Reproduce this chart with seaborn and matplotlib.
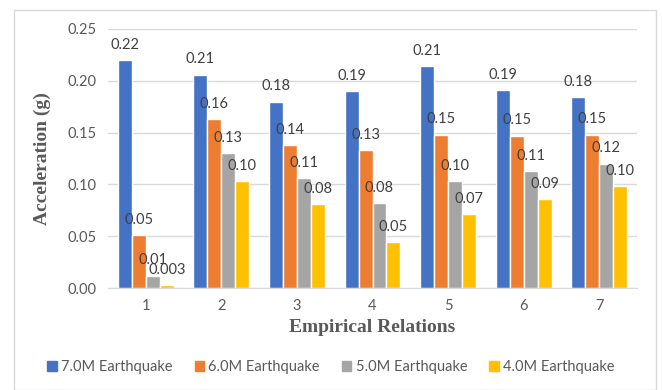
import matplotlib
matplotlib.use("Agg")
import matplotlib.pyplot as plt
import seaborn as sns
import pandas as pd
from matplotlib.patches import Rectangle

categories = ["1", "2", "3", "4", "5", "6", "7"]
series = ["7.0M Earthquake", "6.0M Earthquake", "5.0M Earthquake", "4.0M Earthquake"]
m70 = [0.220, 0.206, 0.180, 0.190, 0.214, 0.191, 0.184]
m60 = [0.051, 0.163, 0.138, 0.133, 0.148, 0.147, 0.148]
m50 = [0.012, 0.130, 0.106, 0.082, 0.103, 0.113, 0.120]
m40 = [0.003, 0.103, 0.081, 0.044, 0.071, 0.086, 0.098]
lab70 = ["0.22", "0.21", "0.18", "0.19", "0.21", "0.19", "0.18"]
lab60 = ["0.05", "0.16", "0.14", "0.13", "0.15", "0.15", "0.15"]
lab50 = ["0.01", "0.13", "0.11", "0.08", "0.10", "0.11", "0.12"]
lab40 = ["0.003", "0.10", "0.08", "0.05", "0.07", "0.09", "0.10"]
yticks = [0.00, 0.05, 0.10, 0.15, 0.20, 0.25]
colors = ["#4472C4", "#ED7D31", "#A5A5A5", "#FFC000"]

rows = []
for s, vals in zip(series, [m70, m60, m50, m40]):
    for c, v in zip(categories, vals):
        rows.append({"cat": c, "series": s, "value": v})
df = pd.DataFrame(rows)

sns.set_style("white")
plt.rcParams["font.family"] = ["Lato", "DejaVu Sans"]

fig = plt.figure(figsize=(6.62, 3.90), dpi=100)
ax = fig.add_axes([108/662, 1-288/390, (637-108)/662, (288-29)/390])
fig.patches.append(Rectangle((14/662, 0.0), (656-14)/662, 1-10/390, transform=fig.transFigure,
                             fill=False, edgecolor="#d9d9d9", linewidth=1.0))

sns.barplot(data=df, x="cat", y="value", hue="series", order=categories, hue_order=series,
            palette=colors, width=0.74, ax=ax, legend=False, saturation=1, errorbar=None)

for cont, labs in zip(ax.containers, [lab70, lab60, lab50, lab40]):
    ax.bar_label(cont, labels=labs, padding=6, fontsize=10.5, color="#404040")

ax.set_ylim(0, 0.25)
ax.set_xlim(-0.5, 6.5)
ax.set_yticks(yticks)
ax.set_yticklabels([f"{t:.2f}" for t in yticks])
ax.yaxis.grid(True, color="#d9d9d9", linewidth=1)
ax.set_axisbelow(True)
for sp in ["top", "right", "left"]:
    ax.spines[sp].set_visible(False)
ax.spines["bottom"].set_color("#d9d9d9")
ax.tick_params(axis="both", length=0, labelsize=10.5, colors="#595959", pad=8)
ax.set_xlabel("Empirical Relations", family="Liberation Serif", fontweight="bold",
              fontsize=14, color="#595959", labelpad=4)
ax.set_ylabel("Acceleration (g)", family="Liberation Serif", fontweight="bold",
              fontsize=14, color="#595959", labelpad=12)

handles = [Rectangle((0, 0), 1, 1, color=c) for c in colors]
fig.legend(handles, series, loc="center", bbox_to_anchor=(0.5, 1-367/390), ncol=4,
           frameon=False, fontsize=10.5, handlelength=0.65, handleheight=0.65,
           handletextpad=0.3, columnspacing=1.5, labelcolor="#595959")

fig.savefig("out.png", dpi=100)
